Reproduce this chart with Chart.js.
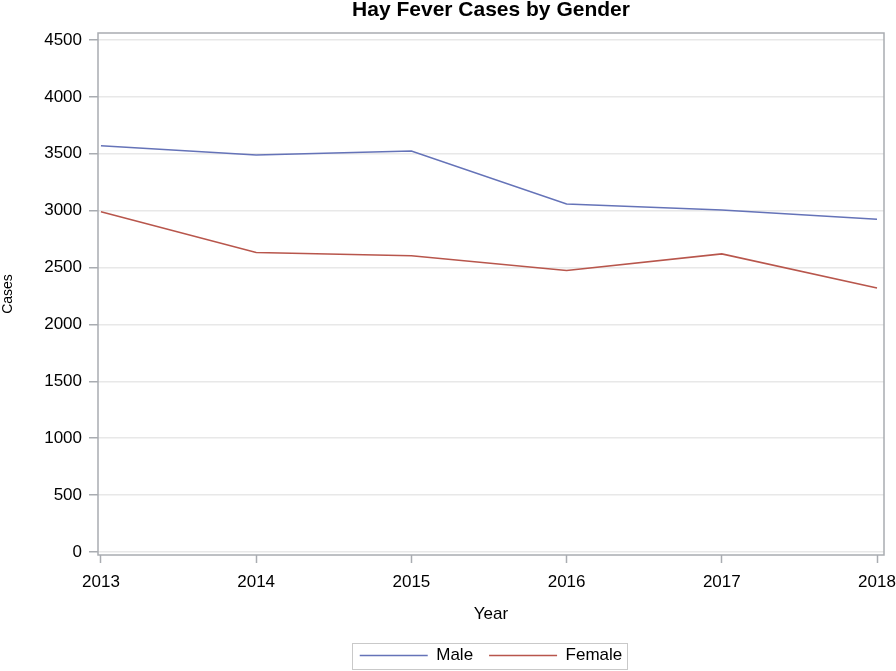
<!DOCTYPE html>
<html>
<head>
<meta charset="utf-8">
<script src="https://cdn.jsdelivr.net/npm/chart.js@4/dist/chart.umd.min.js"></script>
<style>
  html, body { margin: 0; padding: 0; background: #fff; }
  #wrap { width: 896px; height: 671px; }
</style>
</head>
<body>
<div id="wrap"><canvas id="c" width="896" height="671"></canvas></div>
<script>
const years = [2013, 2014, 2015, 2016, 2017, 2018];
const maleCases = [3570, 3489, 3524, 3059, 3005, 2924];
const femaleCases = [2990, 2632, 2603, 2474, 2620, 2320];
const yTicks = [0, 500, 1000, 1500, 2000, 2500, 3000, 3500, 4000, 4500];

const FONT = "'Liberation Sans', Arial, sans-serif";
const frameColor = '#a9acb1';

const framePlugin = {
  id: 'frame',
  afterDraw(chart) {
    const {ctx, chartArea: a} = chart;
    ctx.save();
    ctx.strokeStyle = frameColor;
    ctx.lineWidth = 1.5;
    ctx.strokeRect(a.left, a.top, a.right - a.left, a.bottom - a.top);
    const lg = chart.legend;
    if (lg && lg.legendHitBoxes && lg.legendHitBoxes.length) {
      const hb = lg.legendHitBoxes;
      let minX = Infinity, maxX = -Infinity, cy = 0;
      hb.forEach(h => { minX = Math.min(minX, h.left); maxX = Math.max(maxX, h.left + h.width); cy = h.top + h.height / 2; });
      ctx.strokeStyle = '#c9c9c9';
      ctx.lineWidth = 1;
      ctx.strokeRect(Math.round(minX - 8) + 0.5, Math.round(cy - 13) + 0.5, Math.round(maxX - minX + 12), 26);
    }
    ctx.restore();
  }
};

new Chart(document.getElementById('c'), {
  type: 'line',
  data: {
    datasets: [
      {
        label: 'Male',
        data: years.map((y, i) => ({x: y, y: maleCases[i]})),
        borderColor: '#6573b8',
        backgroundColor: '#6573b8',
        borderWidth: 1.6,
        pointRadius: 0,
        pointStyle: 'line',
        tension: 0
      },
      {
        label: 'Female',
        data: years.map((y, i) => ({x: y, y: femaleCases[i]})),
        borderColor: '#b8564c',
        backgroundColor: '#b8564c',
        borderWidth: 1.6,
        pointRadius: 0,
        pointStyle: 'line',
        tension: 0
      }
    ]
  },
  options: {
    responsive: false,
    animation: false,
    devicePixelRatio: 1,
    layout: { padding: { left: 0, right: 12, top: 0, bottom: 0 } },
    plugins: {
      title: {
        display: true,
        fullSize: false,
        text: 'Hay Fever Cases by Gender',
        color: '#000',
        font: { family: FONT, size: 21, weight: 'bold', lineHeight: 1.0 },
        padding: { top: 0, bottom: 12 }
      },
      legend: {
        position: 'bottom',
        fullSize: false,
        maxHeight: 40,
        labels: {
          usePointStyle: true,
          pointStyle: 'line',
          pointStyleWidth: 68,
          color: '#000',
          padding: 16,
          font: { family: FONT, size: 17 }
        }
      },
      tooltip: { enabled: false }
    },
    scales: {
      x: {
        type: 'linear',
        min: 2012.981,
        max: 2018.045,
        afterBuildTicks(scale) { scale.ticks = years.map(v => ({value: v})); },
        afterFit(scale) { scale.height = 76; scale.paddingLeft = 0; scale.paddingRight = 0; },
        border: { display: false },
        grid: { drawOnChartArea: false, drawTicks: true, tickLength: 8, tickColor: frameColor, tickWidth: 1.5 },
        ticks: {
          color: '#000',
          padding: 9,
          maxRotation: 0,
          autoSkip: false,
          font: { family: FONT, size: 17 },
          callback: v => String(v)
        },
        title: {
          display: true,
          text: 'Year',
          color: '#000',
          font: { family: FONT, size: 17 },
          padding: { top: 4, bottom: 6 }
        }
      },
      y: {
        type: 'linear',
        min: -26,
        max: 4561,
        afterBuildTicks(scale) { scale.ticks = yTicks.map(v => ({value: v})); },
        afterFit(scale) { scale.width = 98; },
        border: { display: false },
        grid: { color: '#e8e8e8', lineWidth: 1.5, drawTicks: true, tickLength: 9, tickColor: frameColor, tickWidth: 1.5 },
        ticks: {
          color: '#000',
          padding: 7,
          font: { family: FONT, size: 17 },
          callback: v => String(v)
        },
        title: {
          display: true,
          text: 'Cases',
          color: '#000',
          font: { family: FONT, size: 14 },
          padding: { top: 0, bottom: 4 }
        }
      }
    }
  },
  plugins: [framePlugin]
});
</script>
</body>
</html>
